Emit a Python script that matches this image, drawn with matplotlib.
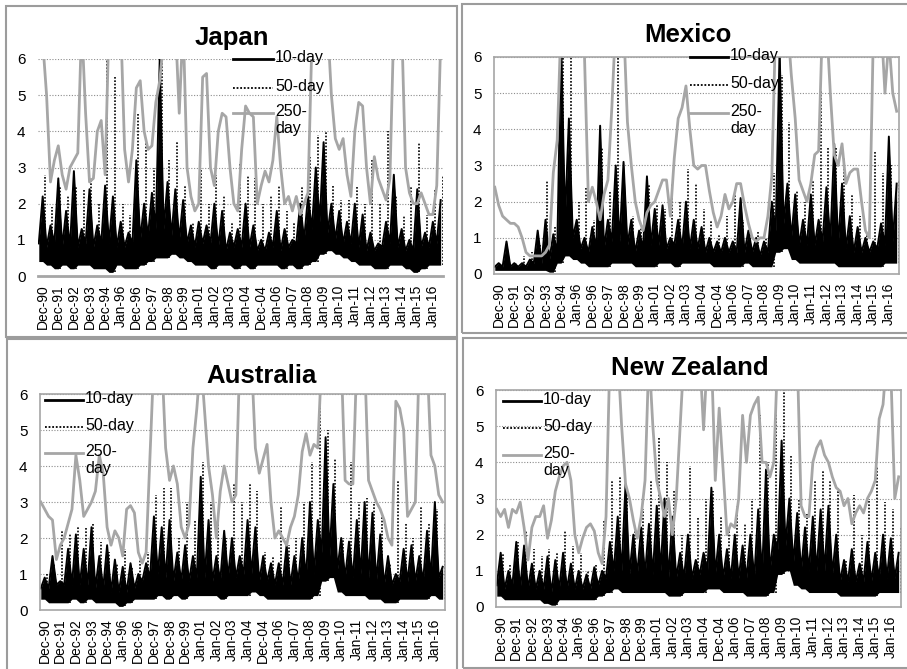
import numpy as np
import matplotlib
matplotlib.use("Agg")
import matplotlib.pyplot as plt
from matplotlib.lines import Line2D
from matplotlib.patches import Rectangle

plt.rcParams['font.family'] = ['Liberation Sans', 'DejaVu Sans']

W, H = 907, 669

# ---------------- Data ---------------- #
tick_labels = ["Dec-90", "Dec-91", "Dec-92", "Dec-93", "Dec-94", "Jan-96", "Dec-96",
               "Dec-97", "Dec-98", "Dec-99", "Jan-01", "Jan-02", "Jan-03", "Jan-04",
               "Dec-04", "Jan-06", "Jan-07", "Jan-08", "Jan-09", "Jan-10", "Jan-11",
               "Jan-12", "Jan-13", "Jan-14", "Jan-15", "Jan-16"]
series_names = ["10-day", "50-day", "250-\nday"]

# 10-day: half-year spike tops, top of the dense mass, and lower edge
jp_ten_hi = [2.2, 1.4, 2.7, 1.8, 2.9, 1.3, 2.4, 1.4, 2.5, 2.2, 1.5, 1.2, 3.2, 2.0, 2.3, 6.0, 2.6, 2.4,
             2.1, 1.4, 1.5, 1.4, 2.0, 1.8, 1.2, 1.3, 2.0, 1.4, 1.0, 1.2, 1.8, 1.3, 1.0, 2.0, 2.2, 3.0,
             3.7, 2.0, 1.8, 1.5, 2.0, 1.7, 1.2, 0.9, 1.5, 2.8, 1.3, 1.0, 2.4, 1.2, 1.5, 2.1]
jp_ten_body = [0.9, 0.8, 0.9, 0.8, 0.8, 0.8, 0.9, 0.8, 0.9, 0.9, 0.8, 0.8, 0.9, 1.0, 1.1, 1.3, 1.3, 1.1,
               1.0, 0.9, 0.8, 0.9, 0.9, 0.8, 0.7, 0.8, 0.8, 0.8, 0.7, 0.7, 0.8, 0.7, 0.8, 0.9, 1.0, 1.3,
               1.5, 1.2, 1.0, 0.9, 0.9, 0.8, 0.7, 0.7, 0.8, 0.9, 0.8, 0.7, 0.7, 0.8, 0.8, 0.9]
jp_ten_lo = [0.4, 0.3, 0.2, 0.3, 0.2, 0.3, 0.3, 0.2, 0.2, 0.1, 0.3, 0.2, 0.2, 0.3, 0.4, 0.5, 0.5, 0.6,
             0.5, 0.4, 0.3, 0.3, 0.2, 0.3, 0.3, 0.2, 0.3, 0.2, 0.3, 0.3, 0.3, 0.2, 0.3, 0.2, 0.3, 0.4,
             0.6, 0.7, 0.6, 0.5, 0.4, 0.3, 0.3, 0.2, 0.2, 0.3, 0.3, 0.2, 0.1, 0.2, 0.3, 0.3]
jp_fifty_hi = [2.8, 1.9, 2.5, 2.2, 2.5, 2.4, 2.7, 2.0, 6.0, 5.5, 2.0, 1.7, 4.5, 3.8, 3.0, 6.5, 3.2, 3.7,
               2.5, 1.5, 3.0, 2.0, 2.8, 2.2, 1.5, 3.1, 2.8, 2.7, 2.0, 2.2, 2.5, 1.8, 1.5, 2.5, 3.3, 3.9,
               4.0, 2.5, 2.1, 2.1, 2.5, 2.0, 3.2, 2.0, 4.0, 2.2, 1.7, 2.5, 3.7, 1.7, 2.4, 2.8]
jp_long = [7, 6.5, 5.0, 2.6, 3.2, 3.6, 2.8, 2.4, 3.0, 3.2, 3.4, 7, 4.5, 2.6, 2.7, 4.0, 4.3, 2.8, 7, 7,
           7, 7, 3.5, 2.6, 3.5, 5.2, 5.4, 4.0, 3.5, 3.6, 4.8, 5.4, 6.5, 7, 7, 7, 4.5, 7, 3.0, 2.2,
           1.8, 2.0, 5.5, 5.6, 3.0, 2.5, 4.0, 4.5, 4.4, 3.0, 2.0, 1.8, 3.5, 4.7, 4.5, 4.4, 2.0, 2.5, 2.9, 2.6,
           3.2, 4.4, 3.0, 2.0, 2.2, 1.8, 2.2, 1.7, 2.0, 2.3, 6.5, 7, 7, 7, 7, 5.0, 3.8, 3.5, 3.8, 2.8,
           2.2, 4.0, 4.8, 4.7, 3.0, 2.0, 3.3, 2.7, 2.4, 2.1, 2.7, 7, 7, 7, 3.0, 2.3, 2.0, 2.0, 2.3, 2.0,
           1.7, 1.7, 2.5, 6.5]

mx_ten_hi = [0.3, 0.9, 0.3, 0.3, 0.4, 1.2, 1.5, 1.1, 6.5, 4.3, 1.5, 1.0, 1.3, 4.1, 1.5, 3.0, 3.1, 1.5,
             1.2, 2.7, 1.8, 1.9, 1.0, 1.5, 2.0, 1.5, 1.3, 1.0, 0.9, 1.0, 0.9, 2.1, 1.2, 1.0, 0.9, 2.0,
             6.2, 2.5, 2.2, 1.5, 2.2, 1.5, 2.4, 3.6, 2.5, 1.6, 1.3, 1.0, 0.9, 1.4, 3.8, 2.5]
mx_ten_body = [0.2, 0.2, 0.2, 0.2, 0.2, 0.3, 0.3, 0.4, 0.6, 1.5, 1.0, 0.7, 0.6, 0.7, 0.7, 0.9, 0.9, 0.8,
               0.6, 0.7, 0.8, 0.8, 0.7, 0.8, 0.7, 0.7, 0.7, 0.6, 0.6, 0.6, 0.6, 0.6, 0.6, 0.6, 0.5, 0.6,
               1.2, 1.4, 1.0, 0.8, 0.8, 0.8, 0.9, 0.9, 0.8, 0.7, 0.6, 0.6, 0.6, 0.7, 0.8, 0.9]
mx_ten_lo = [0.1, 0.1, 0.1, 0.1, 0.1, 0.1, 0.1, 0.05, 0.3, 0.5, 0.4, 0.3, 0.2, 0.2, 0.2, 0.3, 0.3, 0.3,
             0.2, 0.2, 0.2, 0.3, 0.3, 0.2, 0.3, 0.3, 0.3, 0.3, 0.2, 0.2, 0.2, 0.2, 0.3, 0.2, 0.2, 0.2,
             0.6, 0.7, 0.4, 0.3, 0.3, 0.3, 0.3, 0.3, 0.2, 0.2, 0.2, 0.2, 0.2, 0.2, 0.3, 0.3]
mx_fifty_hi = [0.2, 0.4, 0.3, 0.5, 0.6, 0.8, 2.6, 1.3, 6.5, 6.5, 2.0, 2.4, 1.5, 3.5, 2.3, 6.5, 2.2, 1.6,
               1.3, 2.5, 1.9, 1.8, 2.5, 2.0, 2.9, 2.5, 1.8, 1.5, 1.1, 1.6, 2.2, 1.5, 1.3, 1.2, 1.0, 2.8,
               5.5, 4.2, 2.3, 2.0, 2.6, 5.1, 3.5, 3.5, 3.2, 2.2, 1.6, 1.1, 3.4, 2.8, 3.0, 2.6]
mx_long = [2.4, 1.9, 1.6, 1.5, 1.4, 1.4, 1.3, 1.0, 0.6, 0.5, 0.5, 0.5, 0.5, 0.6, 0.8, 2.8, 3.7, 7, 7, 7,
           7, 7, 7, 6.0, 2.0, 2.4, 2.0, 1.5, 2.2, 2.6, 4.6, 7, 7, 7, 4.2, 3.0, 2.0, 1.5, 1.2, 1.7,
           1.9, 2.0, 2.3, 2.6, 2.6, 1.6, 3.2, 4.3, 4.6, 5.2, 4.0, 3.0, 2.9, 3.0, 3.0, 2.3, 1.7, 1.3, 1.6, 2.2,
           1.8, 2.0, 2.5, 2.5, 1.9, 1.4, 1.0, 0.9, 1.0, 1.0, 1.6, 2.7, 7, 7, 7, 7, 5.5, 4.3, 2.6, 2.3,
           2.0, 2.5, 3.3, 3.4, 7, 7, 5.0, 3.3, 3.0, 3.6, 2.5, 2.8, 2.9, 2.9, 2.0, 1.2, 1.0, 6.5, 7, 7,
           5.0, 6.5, 5.0, 4.5]

au_ten_hi = [0.9, 1.5, 0.8, 1.7, 2.1, 1.7, 2.3, 1.5, 1.8, 1.4, 1.2, 1.3, 1.0, 1.3, 2.6, 2.3, 2.5, 1.6,
             1.8, 1.5, 3.7, 2.5, 1.5, 2.2, 2.0, 1.5, 2.5, 2.3, 1.5, 1.3, 1.3, 1.8, 1.5, 2.0, 3.0, 2.5,
             4.8, 3.5, 2.0, 1.9, 2.5, 3.0, 2.7, 2.1, 1.5, 1.0, 1.7, 1.8, 1.5, 2.2, 3.0, 1.2]
au_ten_body = [0.6, 0.6, 0.7, 0.7, 0.7, 0.7, 0.7, 0.6, 0.6, 0.5, 0.5, 0.5, 0.6, 0.8, 0.9, 1.0, 0.9, 0.8,
               0.8, 0.8, 0.9, 0.9, 0.8, 0.8, 0.9, 0.9, 1.0, 1.0, 0.8, 0.8, 0.7, 0.7, 0.7, 0.8, 0.9, 1.0,
               1.6, 1.5, 1.1, 0.9, 0.9, 1.0, 0.9, 0.8, 0.7, 0.7, 0.8, 0.8, 0.8, 0.8, 0.9, 0.9]
au_ten_lo = [0.3, 0.2, 0.2, 0.2, 0.3, 0.2, 0.3, 0.2, 0.2, 0.2, 0.1, 0.2, 0.3, 0.3, 0.3, 0.4, 0.3, 0.4,
             0.3, 0.4, 0.4, 0.4, 0.4, 0.3, 0.4, 0.4, 0.4, 0.5, 0.4, 0.3, 0.3, 0.3, 0.3, 0.3, 0.3, 0.4,
             0.8, 0.9, 0.5, 0.4, 0.4, 0.4, 0.3, 0.3, 0.2, 0.2, 0.3, 0.3, 0.3, 0.3, 0.4, 0.3]
au_fifty_hi = [1.0, 1.3, 2.2, 2.1, 2.3, 2.3, 2.4, 1.9, 1.6, 1.3, 1.7, 1.2, 1.4, 1.6, 3.2, 3.4, 3.4, 2.0,
               3.0, 2.5, 4.1, 3.0, 2.5, 2.0, 3.5, 3.0, 3.5, 3.3, 1.6, 1.5, 2.9, 1.8, 2.0, 3.0, 4.1, 6.2,
               5.0, 4.2, 2.0, 4.1, 3.0, 3.1, 3.0, 2.6, 1.3, 3.6, 2.4, 2.0, 2.9, 2.4, 2.8, 2.4]
au_long = [3.0, 2.8, 2.6, 2.5, 1.4, 1.8, 2.0, 2.4, 2.8, 4.3, 3.6, 2.6, 2.8, 3.0, 3.3, 4.3, 3.8, 2.3, 1.8, 2.2,
           2.0, 1.5, 2.8, 2.9, 2.7, 1.6, 1.3, 1.6, 4.3, 7, 6.0, 7, 4.5, 3.6, 4.0, 3.5, 2.3, 2.0, 2.4, 4.5,
           5.6, 7, 5.5, 4.0, 3.2, 2.0, 3.3, 4.0, 3.5, 3.0, 3.2, 7, 7, 7, 7, 4.5, 3.8, 4.2, 4.6, 3.0,
           2.0, 2.2, 2.0, 1.8, 2.3, 2.6, 3.2, 4.4, 4.9, 4.3, 4.6, 4.5, 7, 7, 7, 7, 7, 7, 3.6, 3.5,
           3.5, 7, 7, 7, 3.6, 3.3, 3.0, 2.8, 2.5, 2.0, 1.8, 5.8, 5.6, 5.0, 2.6, 2.8, 3.0, 7, 7, 7,
           4.3, 4.0, 3.2, 3.0]

nz_ten_hi = [1.5, 1.0, 1.8, 1.7, 1.2, 1.0, 1.4, 1.3, 1.5, 1.2, 1.0, 0.9, 1.1, 1.0, 1.8, 2.5, 3.4, 2.0,
             2.2, 2.3, 2.8, 3.0, 2.5, 1.5, 2.0, 1.3, 1.5, 3.3, 2.0, 1.6, 2.0, 1.7, 2.0, 2.7, 3.8, 2.0,
             4.6, 3.0, 2.6, 2.2, 2.5, 2.7, 2.8, 2.0, 1.3, 1.6, 1.2, 1.8, 1.5, 2.0, 1.9, 1.5]
nz_ten_body = [0.6, 0.5, 0.6, 0.5, 0.5, 0.5, 0.5, 0.4, 0.5, 0.5, 0.5, 0.5, 0.5, 0.6, 0.8, 1.0, 1.0, 0.9,
               0.9, 0.9, 0.9, 1.0, 0.8, 0.8, 0.8, 0.8, 0.9, 1.0, 0.9, 0.8, 0.8, 0.8, 0.8, 0.8, 0.9, 1.0,
               1.6, 1.7, 1.2, 1.0, 1.0, 1.0, 1.0, 0.9, 0.7, 0.7, 0.7, 0.7, 0.7, 0.8, 0.8, 0.8]
nz_ten_lo = [0.3, 0.2, 0.2, 0.2, 0.2, 0.2, 0.1, 0.05, 0.2, 0.2, 0.2, 0.2, 0.2, 0.3, 0.4, 0.5, 0.4, 0.4,
             0.4, 0.4, 0.4, 0.4, 0.3, 0.3, 0.4, 0.4, 0.4, 0.5, 0.5, 0.4, 0.4, 0.4, 0.3, 0.3, 0.3, 0.4,
             0.9, 1.0, 0.6, 0.5, 0.4, 0.4, 0.4, 0.4, 0.3, 0.3, 0.3, 0.3, 0.3, 0.4, 0.4, 0.4]
nz_fifty_hi = [1.5, 1.2, 1.8, 2.1, 1.6, 1.4, 1.6, 1.5, 2.1, 1.7, 1.5, 1.0, 1.2, 2.4, 3.5, 3.6, 3.3, 2.2,
               2.7, 3.5, 4.7, 4.0, 3.2, 2.0, 3.9, 2.5, 3.0, 3.2, 2.5, 2.1, 2.8, 2.3, 3.0, 5.3, 4.0, 6.5,
               6.5, 4.2, 3.0, 2.6, 3.5, 3.8, 3.5, 3.3, 1.3, 3.1, 2.0, 3.0, 3.9, 2.9, 2.7, 2.2]
nz_long = [2.7, 2.5, 2.7, 2.2, 2.7, 2.6, 2.9, 2.2, 1.3, 2.2, 2.5, 2.5, 2.8, 1.9, 2.4, 3.2, 3.6, 3.9, 4.0, 3.5,
           2.0, 1.5, 1.9, 2.2, 2.3, 2.1, 1.5, 1.2, 2.5, 7, 7, 7, 5.0, 3.4, 3.0, 2.4, 1.9, 2.5, 3.5, 7,
           5.0, 3.5, 3.0, 2.5, 3.0, 2.0, 3.0, 5.0, 7, 7, 7, 7, 7, 4.9, 7, 7, 3.5, 5.5, 3.8, 2.0,
           2.3, 2.2, 3.0, 5.3, 4.0, 5.3, 5.6, 5.8, 4.0, 4.0, 3.6, 4.0, 7, 7, 7, 7, 7, 7, 2.8, 2.5,
           2.5, 4.0, 4.4, 4.6, 4.2, 4.0, 3.6, 3.3, 3.2, 2.8, 3.0, 2.3, 2.6, 2.8, 2.6, 3.0, 3.2, 3.5, 5.2, 5.6,
           7, 6.5, 3.0, 3.6]

# ---------------- Layout (figure pixels) ---------------- #
panels = [
    # name, data, axes box (x0, y0, x1, y1), frame box, title xy, key x0/x1, key rows, full frame
    ("Japan", (jp_ten_hi, jp_ten_body, jp_ten_lo, jp_fifty_hi, jp_long),
     (38, 59, 443, 276), (6, 6, 457, 337), (232, 38), (233, 273), (59, 88, 113), False),
    ("Mexico", (mx_ten_hi, mx_ten_body, mx_ten_lo, mx_fifty_hi, mx_long),
     (494, 57, 899, 274), (462, 4, 912, 333), (688, 35), (690, 728), (57, 85, 113), True),
    ("Australia", (au_ten_hi, au_ten_body, au_ten_lo, au_fifty_hi, au_long),
     (40, 394, 445, 610), (7, 339, 457, 675), (262, 376), (45, 83), (400, 427, 453), True),
    ("New Zealand", (nz_ten_hi, nz_ten_body, nz_ten_lo, nz_fifty_hi, nz_long),
     (496, 390, 901, 607), (463, 338, 912, 668), (690, 368), (503, 541), (401, 428, 455), True),
]

GREY = '#a6a6a6'
FRAME = '#9c9c9c'


def fx(x):
    return x / W


def fy(y):
    return 1 - y / H


fig = plt.figure(figsize=(W / 100, H / 100), dpi=100)

for name, data, box, frame, title_xy, key_x, key_rows, full in panels:
    ten_hi, ten_body, ten_lo, fifty_hi, long_vals = data

    # panel frame
    fig.patches.append(Rectangle((fx(frame[0]), fy(frame[3])), fx(frame[2] - frame[0]),
                                 (frame[3] - frame[1]) / H, transform=fig.transFigure,
                                 fill=False, edgecolor=FRAME, lw=1.5, zorder=0))

    ax = fig.add_axes([fx(box[0]), fy(box[3]), fx(box[2] - box[0]), (box[3] - box[1]) / H])

    # 10-day: zigzag between mass top and spike top, filled down to lower edge
    x_ten = np.arange(2 * len(ten_hi)) * 0.25 - 0.25
    y_ten = np.column_stack([ten_body, ten_hi]).ravel()
    y_floor = np.repeat(ten_lo, 2)
    ax.fill_between(x_ten, y_floor, y_ten, color='black', lw=0, zorder=2)
    ax.plot(x_ten, y_ten, color='black', lw=1.4, zorder=2)

    # 50-day: dotted spikes
    x_fifty = np.arange(len(fifty_hi)) * 0.5 + 0.125
    ax.vlines(x_fifty, np.array(ten_lo), fifty_hi, colors='black', linestyles=(0, (1, 1)),
              lw=1.2, zorder=2.1)

    # 250-day
    x_long = np.arange(len(long_vals)) * 0.25 - 0.25
    ax.plot(x_long, long_vals, color=GREY, lw=2.0, zorder=2.2)

    ax.set_xlim(-0.3, 25.65)
    ax.set_ylim(0, 6)
    ax.set_yticks(range(7))
    ax.set_xticks(range(len(tick_labels)))
    ax.set_xticklabels(tick_labels, rotation=90, fontsize=10)
    ax.tick_params(axis='y', length=0, pad=9, labelsize=11)
    ax.tick_params(axis='x', length=0, pad=6)
    ax.yaxis.grid(True, linestyle=(0, (1, 1.5)), color='#8c8c8c', lw=0.8)
    ax.set_axisbelow(True)
    for side, sp in ax.spines.items():
        sp.set_color(GREY)
        sp.set_linewidth(1.2)
        if not full and side != 'bottom':
            sp.set_visible(False)
    if not full:
        ax.spines['bottom'].set_linewidth(2)

    fig.text(fx(title_xy[0]), fy(title_xy[1]), name, fontsize=18.5, fontweight='bold',
             ha='center', va='center')

    # key
    styles = [dict(color='black', lw=2), dict(color='black', lw=1.3, linestyle=(0, (1, 1))),
              dict(color=GREY, lw=2)]
    for label, row, st in zip(series_names, key_rows, styles):
        fig.add_artist(Line2D([fx(key_x[0]), fx(key_x[1])], [fy(row), fy(row)],
                              transform=fig.transFigure, zorder=5, **st))
        fig.text(fx(key_x[1] + 2), fy(row - 9), label, fontsize=11.5, ha='left', va='top',
                 linespacing=1.15, zorder=5)

fig.savefig("out.png", dpi=100)
